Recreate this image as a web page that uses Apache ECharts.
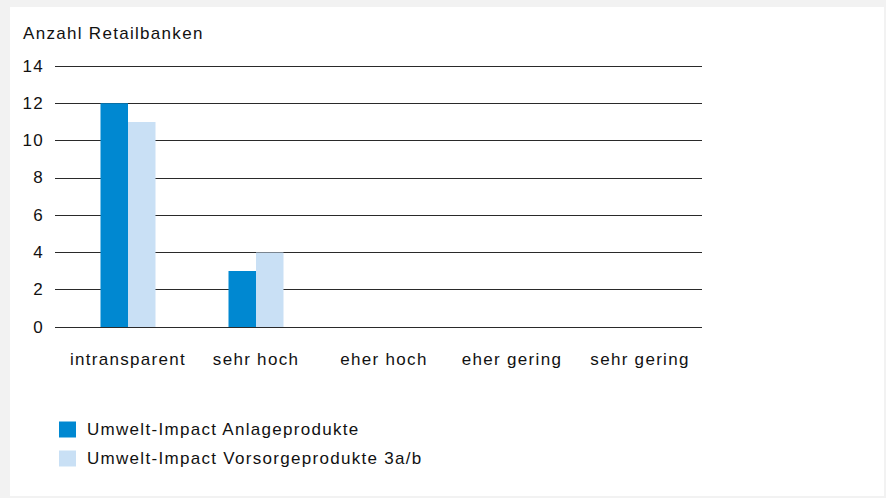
<!DOCTYPE html>
<html>
<head>
<meta charset="utf-8">
<script src="https://cdn.jsdelivr.net/npm/echarts@6/dist/echarts.min.js"></script>
<style>
  html, body { margin: 0; padding: 0; background: #f2f2f2; }
  #main { position: absolute; left: 10px; top: 7px; width: 874px; height: 489px; background: #fff; }
  /* Originalschrift ist etwas gesperrt */
  #main svg text { letter-spacing: 1.3px; }
</style>
</head>
<body>
<div id="main"></div>
<script>
// Kategorien und Werte
var categories = ['intransparent', 'sehr hoch', 'eher hoch', 'eher gering', 'sehr gering'];
var anlage = [12, 3, 0, 0, 0];
var vorsorge = [11, 4, 0, 0, 0];
var seriesNames = ['Umwelt-Impact Anlageprodukte', 'Umwelt-Impact Vorsorgeprodukte 3a/b'];

var chart = echarts.init(document.getElementById('main'), null, { renderer: 'svg' });
var font = 'Liberation Sans, Arial, sans-serif';
var txt = '#111';

chart.setOption({
  animation: false,
  textStyle: { fontFamily: font },
  title: {
    text: 'Anzahl Retailbanken',
    left: 8, top: 13,
    textStyle: { fontSize: 17, fontWeight: 'normal', color: txt, fontFamily: font }
  },
  legend: {
    orient: 'vertical',
    left: 44, top: 409,
    itemWidth: 17, itemHeight: 16, itemGap: 12,
    icon: 'rect',
    textStyle: { fontSize: 17, color: txt, fontFamily: font, padding: [0, 0, 0, 6] },
    data: seriesNames
  },
  // grid 0: Balken, grid 1: Hilfslinien + Y-Beschriftung
  grid: [
    { left: 54, right: 180, top: 59, bottom: 169 },
    { left: 45, right: 182, top: 59, bottom: 169 }
  ],
  xAxis: [
    {
      type: 'category', gridIndex: 0,
      data: categories,
      axisLine: { show: false },
      axisTick: { show: false },
      axisLabel: { fontSize: 17, color: txt, margin: 24, fontFamily: font, interval: 0 }
    },
    { type: 'value', gridIndex: 1, show: false, min: 0, max: 1 }
  ],
  yAxis: [
    {
      type: 'value', gridIndex: 0,
      min: 0, max: 14, interval: 2,
      show: false
    },
    {
      type: 'value', gridIndex: 1,
      min: 0, max: 14, interval: 2,
      axisLabel: { fontSize: 17, color: txt, margin: 11, fontFamily: font },
      splitLine: { lineStyle: { color: '#2a2a2a', width: 1 } },
      axisLine: { show: false },
      axisTick: { show: false }
    }
  ],
  series: [
    {
      name: seriesNames[0], type: 'bar', data: anlage,
      xAxisIndex: 0, yAxisIndex: 0,
      barWidth: 27.5, barGap: '0%',
      itemStyle: { color: '#0088d1' }
    },
    {
      name: seriesNames[1], type: 'bar', data: vorsorge,
      xAxisIndex: 0, yAxisIndex: 0,
      barWidth: 27.5, barGap: '0%',
      itemStyle: { color: '#c9e0f5' }
    }
  ]
});
</script>
</body>
</html>
